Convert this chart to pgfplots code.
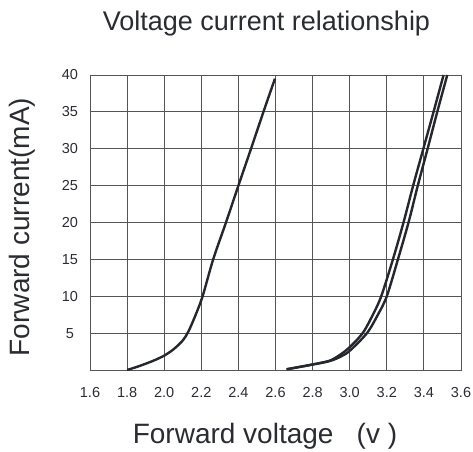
\documentclass[border=0pt]{standalone}
\usepackage{fontspec}
\setmainfont{Liberation Sans}
\usepackage{pgfplots}
\pgfplotsset{compat=1.18}
\definecolor{txt}{HTML}{2A2C32}
\definecolor{crv}{HTML}{24272D}
\definecolor{grd}{HTML}{555555}
\begin{document}
\begin{tikzpicture}
\begin{axis}[
  scale only axis,
  width=371bp, height=295bp,
  xmin=1.6, xmax=3.6, ymin=0, ymax=40,
  xtick={1.6,1.8,2.0,2.2,2.4,2.6,2.8,3.0,3.2,3.4,3.6},
  ytick={0,5,10,15,20,25,30,35,40},
  yticklabels={,5,10,15,20,25,30,35,40},
  grid=major,
  major grid style={draw=grd, line width=0.9bp},
  axis line style={draw=grd, line width=0.9bp},
  major tick length=0pt,
  /pgf/number format/assume math mode=true,
  xticklabel style={/pgf/number format/fixed, /pgf/number format/fixed zerofill, /pgf/number format/precision=1, font=\fontsize{14.5bp}{17bp}\selectfont, text=txt, yshift=-14bp},
  yticklabel style={font=\fontsize{14.5bp}{17bp}\selectfont, text=txt, anchor=center, xshift=-20bp},
  title={Voltage current relationship},
  title style={at={(axis description cs:0.4757,1.150)}, anchor=base, yshift=-6bp, font=\fontsize{27bp}{32bp}\selectfont, text=txt},
  xlabel={Forward voltage\hspace{0.55em} (v )},
  xlabel style={at={(axis description cs:0.4717,-0.2475)}, anchor=base, font=\fontsize{28bp}{33bp}\selectfont, text=txt},
  ylabel={Forward current(mA)},
  ylabel style={at={(axis description cs:-0.1833,0.4847)}, anchor=center, rotate=0, font=\fontsize{28bp}{33bp}\selectfont, text=txt},
]
\addplot[crv, line width=2.4bp, smooth] coordinates {
(1.8,0) (1.85,0.4) (1.9,0.85) (1.95,1.35) (2.0,1.95) (2.05,2.8) (2.1,4.0) (2.13,5.2) (2.165,7.2) (2.207,10) (2.264,15) (2.333,20) (2.40,25) (2.468,30) (2.535,35) (2.597,39.5)
};
\addplot[crv, line width=2.4bp, smooth] coordinates {
(2.66,0.1) (2.78,0.65) (2.89,1.25) (2.95,2.1) (3.0,3.1) (3.07,5) (3.125,7.5) (3.17,10) (3.233,15) (3.29,20) (3.342,25) (3.397,30) (3.452,35) (3.506,40)
};
\addplot[crv, line width=2.4bp, smooth] coordinates {
(2.66,0.1) (2.78,0.65) (2.89,1.2) (2.95,1.8) (3.0,2.6) (3.093,5) (3.152,7.5) (3.20,10) (3.26,15) (3.317,20) (3.367,25) (3.42,30) (3.472,35) (3.526,40)
};
\end{axis}
\pgfresetboundingbox
\useasboundingbox ([shift={(-90bp,-82bp)}]current axis.south west) rectangle ([shift={(12bp,75bp)}]current axis.north east);
\end{tikzpicture}
\end{document}
